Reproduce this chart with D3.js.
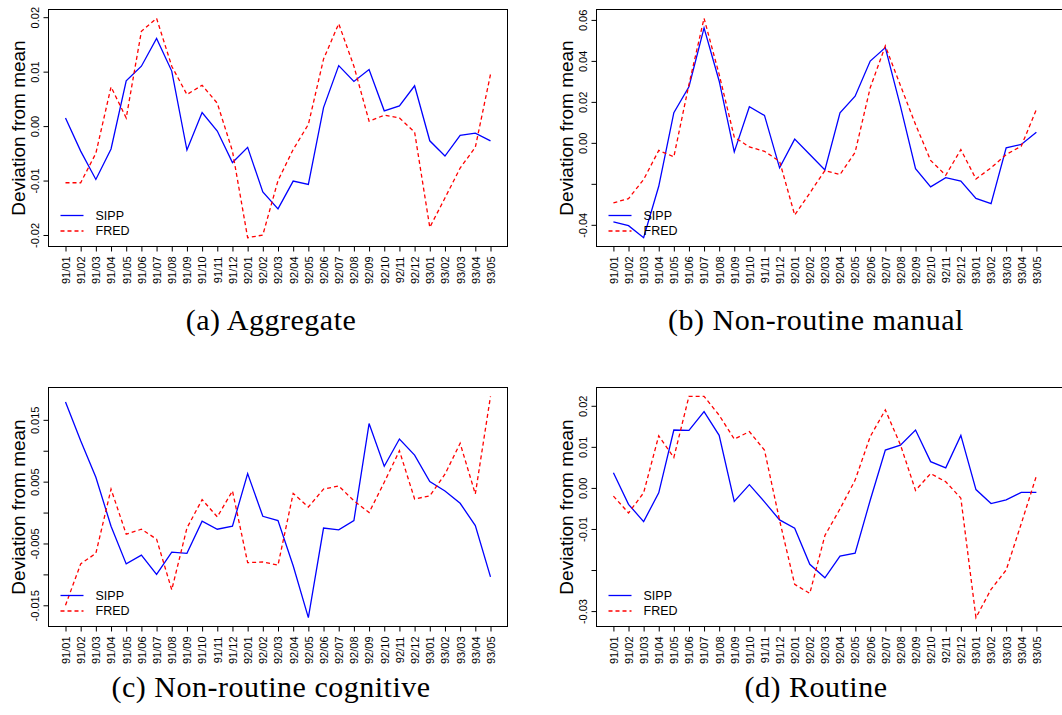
<!DOCTYPE html>
<html>
<head>
<meta charset="utf-8">
<title>Deviation from mean: SIPP vs FRED</title>
<script src="https://d3js.org/d3.v7.min.js"></script>
<style>
  body { margin: 0; background: #fff; }
  svg { display: block; }
  .tick text { font-family: 'Liberation Sans', Arial, sans-serif; font-size: 11px; fill: #000; }
  .tick line { stroke: #000; }
  .ytitle { font-family: 'Liberation Sans', Arial, sans-serif; font-size: 19px; fill: #000; }
  .legend text { font-family: 'Liberation Sans', Arial, sans-serif; font-size: 12.5px; fill: #000; }
  .caption { font-family: 'Liberation Serif', 'Times New Roman', serif; font-size: 30px; letter-spacing: 0.5px; fill: #000; }
</style>
</head>
<body>
<script>
// month labels on the x axis
const months = ['91/01', '91/02', '91/03', '91/04', '91/05', '91/06', '91/07', '91/08', '91/09', '91/10',
    '91/11', '91/12', '92/01', '92/02', '92/03', '92/04', '92/05', '92/06', '92/07', '92/08',
    '92/09', '92/10', '92/11', '92/12', '93/01', '93/02', '93/03', '93/04', '93/05'];

// (a) Aggregate
const aggSipp = [0.0015, -0.0046, -0.0098, -0.0042, 0.0083, 0.0110, 0.0161, 0.0101, -0.0044, 0.0025,
    -0.0009, -0.0067, -0.0039, -0.0121, -0.0152, -0.0101, -0.0107, 0.0034, 0.0111, 0.0082,
    0.0104, 0.0028, 0.0037, 0.0074, -0.0027, -0.0055, -0.0017, -0.0013, -0.0027];
const aggFred = [-0.0104, -0.0104, -0.0050, 0.0072, 0.0015, 0.0174, 0.0198, 0.0110, 0.0058, 0.0075,
    0.0042, -0.0046, -0.0205, -0.0200, -0.0100, -0.0043, 0.0003, 0.0123, 0.0188, 0.0110,
    0.0009, 0.0020, 0.0015, -0.0011, -0.0186, -0.0132, -0.0077, -0.0039, 0.0095];

// (b) Non-routine manual
const nrmSipp = [-0.0386, -0.0404, -0.0463, -0.0212, 0.0147, 0.0274, 0.0561, 0.0302, -0.0044, 0.0176,
    0.0134, -0.0122, 0.0018, -0.0057, -0.0132, 0.0147, 0.0228, 0.0399, 0.0465, 0.0179,
    -0.0126, -0.0215, -0.0170, -0.0187, -0.0271, -0.0297, -0.0024, -0.0008, 0.0052];
const nrmFred = [-0.0293, -0.0272, -0.0179, -0.0037, -0.0068, 0.0285, 0.0608, 0.0334, 0.0028, -0.0020,
    -0.0041, -0.0090, -0.0352, -0.0245, -0.0135, -0.0155, -0.0046, 0.0269, 0.0473, 0.0280,
    0.0090, -0.0086, -0.0158, -0.0033, -0.0176, -0.0122, -0.0057, -0.0016, 0.0163];

// (c) Non-routine cognitive
const nrcSipp = [0.0179, 0.0116, 0.0057, -0.0022, -0.0083, -0.0069, -0.0100, -0.0064, -0.0066, -0.0014,
    -0.0027, -0.0022, 0.0063, -0.0006, -0.0013, -0.0086, -0.0170, -0.0025, -0.0028, -0.0013,
    0.0144, 0.0075, 0.0119, 0.0093, 0.0050, 0.0035, 0.0015, -0.0021, -0.0104];
const nrcFred = [-0.0150, -0.0083, -0.0066, 0.0038, -0.0035, -0.0027, -0.0043, -0.0125, -0.0025, 0.0021,
    -0.0007, 0.0035, -0.0081, -0.0080, -0.0085, 0.0031, 0.0009, 0.0038, 0.0043, 0.0019,
    0.0000, 0.0049, 0.0100, 0.0022, 0.0027, 0.0062, 0.0112, 0.0030, 0.0188];

// (d) Routine
const rouSipp = [0.0037, -0.0040, -0.0082, -0.0012, 0.0141, 0.0140, 0.0186, 0.0128, -0.0033, 0.0008,
    -0.0034, -0.0078, -0.0098, -0.0186, -0.0219, -0.0166, -0.0159, -0.0030, 0.0092, 0.0104,
    0.0141, 0.0064, 0.0049, 0.0128, -0.0004, -0.0038, -0.0029, -0.0011, -0.0011];
const rouFred = [-0.0020, -0.0061, -0.0012, 0.0127, 0.0074, 0.0223, 0.0223, 0.0177, 0.0119, 0.0137,
    0.0092, -0.0079, -0.0235, -0.0257, -0.0116, -0.0051, 0.0019, 0.0125, 0.0190, 0.0105,
    -0.0006, 0.0035, 0.0015, -0.0025, -0.0316, -0.0247, -0.0200, -0.0087, 0.0029];

// y ticks and their labels (R drops labels that would overlap)
const aggTicks = [-0.02, -0.01, 0, 0.01, 0.02];
const aggLabels = ['-0.02', '-0.01', '0.00', '0.01', '0.02'];
const nrmTicks = [-0.04, -0.02, 0, 0.02, 0.04, 0.06];
const nrmLabels = ['-0.04', '', '0.00', '0.02', '0.04', '0.06'];
const nrcTicks = [-0.015, -0.01, -0.005, 0, 0.005, 0.01, 0.015];
const nrcLabels = ['-0.015', '', '-0.005', '', '0.005', '', '0.015'];
const rouTicks = [-0.03, -0.02, -0.01, 0, 0.01, 0.02];
const rouLabels = ['-0.03', '', '-0.01', '0.00', '0.01', '0.02'];

const captions = ['(a) Aggregate', '(b) Non-routine manual', '(c) Non-routine cognitive', '(d) Routine'];
const seriesNames = ['SIPP', 'FRED'];

const panels = [
    { sipp: aggSipp, fred: aggFred, ticks: aggTicks, labels: aggLabels, caption: captions[0], col: 0, row: 0 },
    { sipp: nrmSipp, fred: nrmFred, ticks: nrmTicks, labels: nrmLabels, caption: captions[1], col: 1, row: 0 },
    { sipp: nrcSipp, fred: nrcFred, ticks: nrcTicks, labels: nrcLabels, caption: captions[2], col: 0, row: 1 },
    { sipp: rouSipp, fred: rouFred, ticks: rouTicks, labels: rouLabels, caption: captions[3], col: 1, row: 1 },
];

// layout (the right column's frame runs off the page edge, as in the original crop)
const cols = [
    { left: 48.5, frameRight: 507.5, plotRight: 507.5, capX: 271 },
    { left: 596.5, frameRight: 1070, plotRight: 1053.3, capX: 816 },
];
const rows = [
    { top: 9.5, bottom: 246.5, capY: 330 },
    { top: 387.5, bottom: 626.5, capY: 697 },
];

const width = 1062;
const height = 715;

const svg = d3.select('body').append('svg').attr('width', width).attr('height', height);

panels.forEach((p) => {
    const c = cols[p.col];
    const r = rows[p.row];
    const g = svg.append('g');

    const x = d3.scalePoint().domain(months).range([c.left, c.plotRight]).padding(1.12);
    const ext = d3.extent(p.sipp.concat(p.fred));
    const pad = (ext[1] - ext[0]) * 0.04;
    const y = d3.scaleLinear().domain([ext[0] - pad, ext[1] + pad]).range([r.bottom, r.top]);

    // x axis
    g.append('g')
        .attr('transform', `translate(0,${r.bottom})`)
        .call(d3.axisBottom(x).tickSize(5).tickSizeOuter(0))
        .call((a) => a.select('.domain').remove())
        .selectAll('text')
        .attr('y', null)
        .attr('dy', '0.35em')
        .attr('text-anchor', 'end')
        .attr('transform', 'translate(0,10) rotate(-90)');

    // y axis
    g.append('g')
        .attr('transform', `translate(${c.left},0)`)
        .call(d3.axisLeft(y).tickValues(p.ticks).tickFormat((d, i) => p.labels[i]).tickSize(5).tickSizeOuter(0))
        .call((a) => a.select('.domain').remove())
        .selectAll('text')
        .attr('x', null)
        .attr('dy', '0.35em')
        .attr('text-anchor', 'middle')
        .attr('transform', 'translate(-13,0) rotate(-90)');

    g.append('text')
        .attr('class', 'ytitle')
        .attr('text-anchor', 'middle')
        .attr('dy', '0.35em')
        .attr('transform', `translate(${c.left - 30},${(r.top + r.bottom) / 2}) rotate(-90)`)
        .text('Deviation from mean');

    // series
    const line = d3
        .line()
        .x((d, i) => x(months[i]))
        .y((d) => y(d));

    g.append('path')
        .datum(p.sipp)
        .attr('fill', 'none')
        .attr('stroke', '#0000ff')
        .attr('stroke-width', 1.3)
        .attr('d', line);

    g.append('path')
        .datum(p.fred)
        .attr('fill', 'none')
        .attr('stroke', '#ff0000')
        .attr('stroke-width', 1.3)
        .attr('stroke-dasharray', '4,3')
        .attr('d', line);

    // frame
    g.append('rect')
        .attr('x', c.left)
        .attr('y', r.top)
        .attr('width', c.frameRight - c.left)
        .attr('height', r.bottom - r.top)
        .attr('fill', 'none')
        .attr('stroke', '#000')
        .attr('stroke-width', 1);

    // legend
    const leg = g.append('g').attr('class', 'legend');
    seriesNames.forEach((name, i) => {
        const ly = r.bottom - 31 + i * 15.5;
        leg.append('line')
            .attr('x1', c.left + 12)
            .attr('x2', c.left + 35)
            .attr('y1', ly)
            .attr('y2', ly)
            .attr('stroke', i === 0 ? '#0000ff' : '#ff0000')
            .attr('stroke-width', 1.3)
            .attr('stroke-dasharray', i === 0 ? null : '4,3');
        leg.append('text')
            .attr('x', c.left + 47)
            .attr('y', ly)
            .attr('dy', '0.35em')
            .text(name);
    });

    // caption
    svg.append('text')
        .attr('class', 'caption')
        .attr('x', c.capX)
        .attr('y', r.capY)
        .attr('text-anchor', 'middle')
        .text(p.caption);
});
</script>
</body>
</html>
